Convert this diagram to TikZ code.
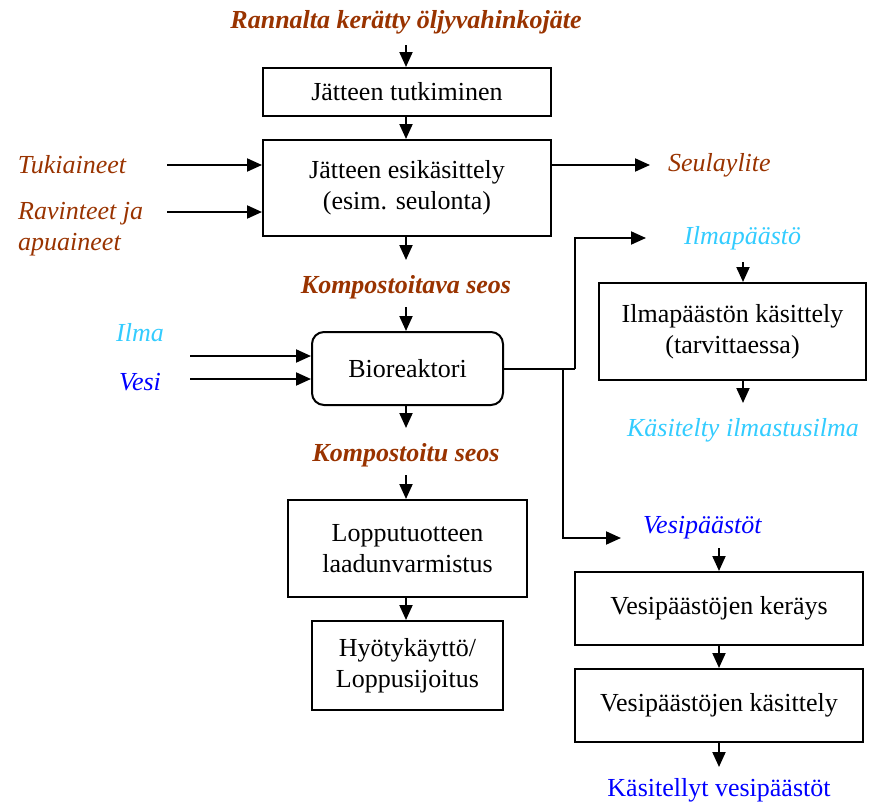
\documentclass[tikz,border=0pt]{standalone}
\usepackage{fontspec}
\setmainfont{Liberation Serif}
\usetikzlibrary{arrows.meta}
\definecolor{brownred}{HTML}{993300}
\definecolor{skyblue}{HTML}{33CCFF}
\definecolor{pureblue}{HTML}{0000FF}
\begin{document}
\begin{tikzpicture}[x=1pt,y=-1pt,
  every node/.style={font=\fontsize{26}{31}\selectfont, inner sep=0pt},
  procbox/.style={draw, line width=2pt, align=center},
  lbl/.style={font=\fontsize{26}{31}\selectfont\itshape},
  keylbl/.style={font=\fontsize{26}{31}\selectfont\bfseries\itshape, text=brownred},
  flow/.style={line width=2pt, -{Triangle[length=15pt,width=13pt]}},
  wire/.style={line width=2pt}]
\useasboundingbox (0,0) rectangle (879,803);

% main composting line
\node[keylbl] (raw) at (406,22) {Rannalta kerätty öljyvahinkojäte};
\node[procbox, minimum width=288pt, minimum height=48pt] (tutk) at (407,92) {Jätteen tutkiminen};
\node[procbox, minimum width=288pt, minimum height=96pt] (esik) at (407,188) {Jätteen esikäsittely\\(esim. seulonta)};
\node[keylbl] (seos1) at (406,287) {Kompostoitava seos};
\node[procbox, rounded corners=12pt, minimum width=191pt, minimum height=73pt] (bio) at (407.5,368.5) {Bioreaktori};
\node[keylbl] (seos2) at (406,455) {Kompostoitu seos};
\node[procbox, minimum width=239pt, minimum height=97pt] (laatu) at (407.5,548.5) {Lopputuotteen\\laadunvarmistus};
\node[procbox, minimum width=191pt, minimum height=89pt] (hyoty) at (407.5,665.5) {Hyötykäyttö/\\Loppusijoitus};

% inputs and outputs of pretreatment
\node[lbl, text=brownred] (tuki) at (72,165) {Tukiaineet};
\node[lbl, text=brownred, align=left, anchor=west] (ravi) at (18,229) {Ravinteet ja\\apuaineet};
\node[lbl, text=brownred, anchor=west] (seula) at (668,165) {Seulaylite};

% reactor inputs
\node[lbl, text=skyblue] (ilma) at (140,333) {Ilma};
\node[lbl, text=pureblue] (vesi) at (140,382) {Vesi};

% air emission branch
\node[lbl, text=skyblue, anchor=west] (ilmap) at (684,238) {Ilmapäästö};
\node[procbox, minimum width=267pt, minimum height=97pt] (ilmak) at (732.5,331.5) {Ilmapäästön käsittely\\(tarvittaessa)};
\node[lbl, text=skyblue] (ilmao) at (743,430) {Käsitelty ilmastusilma};

% water emission branch
\node[lbl, text=pureblue, anchor=west] (vesip) at (643,528) {Vesipäästöt};
\node[procbox, minimum width=288pt, minimum height=73pt] (vker) at (719,608.5) {Vesipäästöjen keräys};
\node[procbox, minimum width=288pt, minimum height=73pt] (vkas) at (719,705.5) {Vesipäästöjen käsittely};
\node[text=pureblue] (vesio) at (719,790) {Käsitellyt vesipäästöt};

% free ends of connectors
\coordinate (a0) at (406,45);
\coordinate (a1) at (406,260);
\coordinate (a2) at (406,307);
\coordinate (a3) at (406,428);
\coordinate (a4) at (406,475);
\coordinate (tukiS) at (167,165);
\coordinate (raviS) at (167,212);
\coordinate (seulaE) at (650,165);
\coordinate (ilmaS) at (190,356);
\coordinate (vesiS) at (190,379);
\coordinate (airA) at (743,262);
\coordinate (airB) at (743,403);
\coordinate (watA) at (719,548);
\coordinate (watB) at (719,767);
\coordinate (j1) at (575,368.5);
\coordinate (j2) at (563,368.5);
\coordinate (ilmapE) at (646,238);
\coordinate (vesipE) at (621,538);

% main line arrows
\draw[flow] (a0) -- (a0 |- tutk.north);
\draw[flow] (a0 |- tutk.south) -- (a0 |- esik.north);
\draw[flow] (a0 |- esik.south) -- (a1);
\draw[flow] (a2) -- (a2 |- bio.north);
\draw[flow] (a2 |- bio.south) -- (a3);
\draw[flow] (a4) -- (a4 |- laatu.north);
\draw[flow] (a4 |- laatu.south) -- (a4 |- hyoty.north);

% side arrows
\draw[flow] (tukiS) -- (tukiS -| esik.west);
\draw[flow] (raviS) -- (raviS -| esik.west);
\draw[flow] (esik.east |- seulaE) -- (seulaE);
\draw[flow] (ilmaS) -- (ilmaS -| bio.west);
\draw[flow] (vesiS) -- (vesiS -| bio.west);

% reactor emissions
\draw[wire] (bio.east) -- (j1);
\draw[flow] (j1) |- (ilmapE);
\draw[flow] (j2) |- (vesipE);

% treatment arrows
\draw[flow] (airA) -- (airA |- ilmak.north);
\draw[flow] (airA |- ilmak.south) -- (airB);
\draw[flow] (watA) -- (watA |- vker.north);
\draw[flow] (watA |- vker.south) -- (watA |- vkas.north);
\draw[flow] (watA |- vkas.south) -- (watB);
\end{tikzpicture}
\end{document}
